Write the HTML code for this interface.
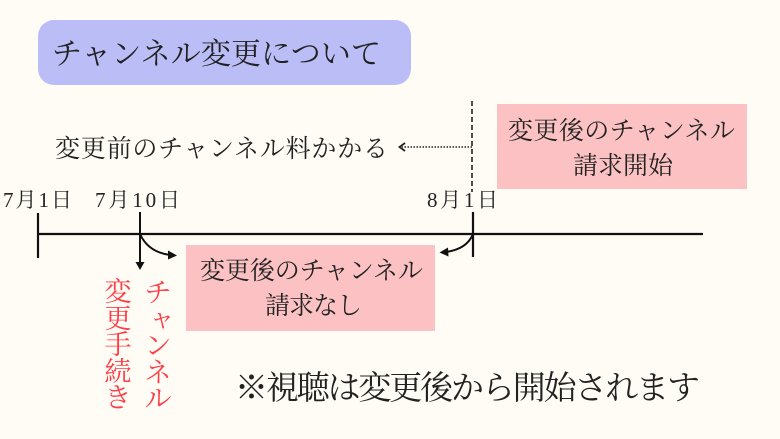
<!DOCTYPE html>
<html><head><meta charset="utf-8">
<style>
html,body{margin:0;padding:0;background:#fffcf5;}
svg{display:block;}
text{font-family:"Liberation Serif","Noto Serif CJK SC","Noto Serif CJK JP",serif;fill:#222;}
</style></head>
<body>
<svg width="780" height="439" viewBox="0 0 780 439" xmlns="http://www.w3.org/2000/svg">
<rect x="0" y="0" width="780" height="439" fill="#fffcf5"/>
<!-- title -->
<rect x="38" y="20" width="373" height="65" rx="16" fill="#bbbdf7"/>
<text x="52" y="64" font-size="30" textLength="329" lengthAdjust="spacing">チャンネル変更について</text>

<!-- top-left label -->
<text x="55" y="157" font-size="25" textLength="333" lengthAdjust="spacing">変更前のチャンネル料かかる</text>
<!-- dotted arrow -->
<line x1="472" y1="147" x2="402" y2="147" stroke="#222" stroke-width="1.6" stroke-dasharray="1.5,1.5"/>
<path d="M405 143 L399.5 147 L405 151" fill="none" stroke="#222" stroke-width="1.8"/>
<!-- dashed vertical -->
<line x1="472" y1="101" x2="472" y2="192" stroke="#222" stroke-width="1.6" stroke-dasharray="5,3"/>

<!-- top right pink box -->
<rect x="497" y="104" width="250" height="85" fill="#fcc2c3"/>
<text x="508" y="139" font-size="25" textLength="227" lengthAdjust="spacing">変更後のチャンネル</text>
<text x="573" y="174" font-size="25" textLength="100" lengthAdjust="spacing">請求開始</text>

<!-- date labels -->
<text x="3" y="207" font-size="21" textLength="69" lengthAdjust="spacing">7月1日</text>
<text x="95" y="207" font-size="21" textLength="85" lengthAdjust="spacing">7月10日</text>
<text x="427" y="207" font-size="21" textLength="71" lengthAdjust="spacing">8月1日</text>

<!-- timeline -->
<line x1="37" y1="234" x2="703" y2="234" stroke="#111" stroke-width="2.2"/>
<line x1="38" y1="213" x2="38" y2="258" stroke="#111" stroke-width="2.2"/>
<line x1="140" y1="212" x2="140" y2="264" stroke="#111" stroke-width="2"/>
<line x1="473" y1="212" x2="473" y2="257" stroke="#111" stroke-width="2.2"/>
<!-- down arrow head -->
<path d="M135.5 262 L140 270 L144.5 262 Z" fill="#111"/>
<!-- curved arrow 7/10 -->
<path d="M140 234 Q148 252 170 255" fill="none" stroke="#111" stroke-width="2"/>
<path d="M168 250.5 L177 255.5 L168 259.5 Z" fill="#111"/>
<!-- curved arrow 8/1 -->
<path d="M473 234 Q467 249 446 252" fill="none" stroke="#111" stroke-width="2"/>
<path d="M448 247.5 L439.5 252.5 L448.5 256.5 Z" fill="#111"/>

<!-- bottom pink box -->
<rect x="186" y="245" width="249" height="86" fill="#fcc2c3"/>
<text x="200" y="279" font-size="25" textLength="223" lengthAdjust="spacing">変更後のチャンネル</text>
<text x="265" y="314" font-size="25" textLength="97" lengthAdjust="spacing">請求なし</text>

<!-- red vertical text -->
<g font-size="27" text-anchor="middle" style="fill:#ff3d46">
<text x="158" y="302" style="fill:#ff3d46">チ</text>
<text x="162" y="327" font-size="25" style="fill:#ff3d46">ャ</text>
<text x="158" y="355" style="fill:#ff3d46">ン</text>
<text x="158" y="382" style="fill:#ff3d46">ネ</text>
<text x="158" y="408" style="fill:#ff3d46">ル</text>
<text x="118" y="301" style="fill:#ff3d46">変</text>
<text x="118" y="328" style="fill:#ff3d46">更</text>
<text x="118" y="354" style="fill:#ff3d46">手</text>
<text x="118" y="381" style="fill:#ff3d46">続</text>
<text x="118" y="407" style="fill:#ff3d46">き</text>
</g>

<!-- bottom note -->
<text x="235" y="399" font-size="33" textLength="465" lengthAdjust="spacing">※視聴は変更後から開始されます</text>
</svg>
</body></html>
